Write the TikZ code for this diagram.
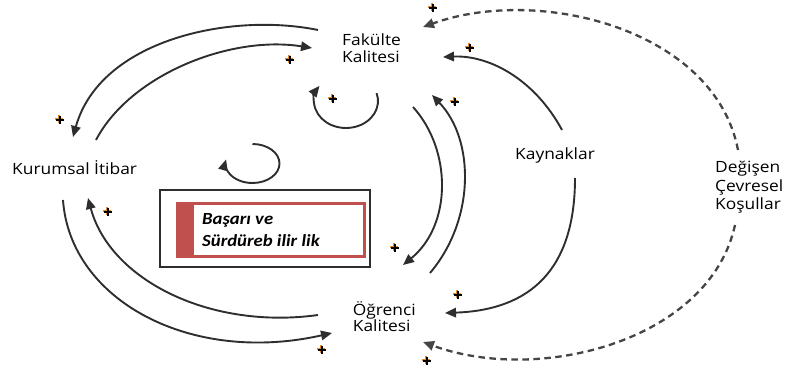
\documentclass[tikz,border=0pt]{standalone}
\usepackage{fontspec}
\setmainfont{Open Sans}
\newfontfamily\boxfont{Carlito}
\usetikzlibrary{arrows.meta}

\definecolor{linkgray}{HTML}{2E2E2E}
\definecolor{dashgray}{HTML}{454545}
\definecolor{boxred}{HTML}{C0504D}
\definecolor{plusorange}{HTML}{E08A2C}

\tikzset{
  flowarrow/.style={draw=linkgray, line width=1.9pt,
    -{Triangle[length=11pt,width=9.5pt]}},
  dashflow/.style={flowarrow, draw=dashgray, line width=2.3pt,
    dash pattern=on 6.5pt off 4.5pt},
  lbl/.style={font=\fontsize{15.5}{16.6}\selectfont, align=left,
    inner sep=0pt, xscale=1.12, text=black},
  plussign/.pic={
    \draw[plusorange, line width=2.2pt] (-5,-0.9) -- (3,-0.9) (-1.1,-4.8) -- (-1.1,3.1);
    \draw[black, line width=2pt] (-4,0) -- (4,0) (0,-4) -- (0,4);
  }
}

\begin{document}
\begin{tikzpicture}[x=1pt,y=-1pt]
\useasboundingbox (0,0) rectangle (797,371);

% variables
\node[lbl, anchor=north west] (fak) at (342,34) {Fakülte\\Kalitesi};
\node[lbl, anchor=base west] (kur) at (12,175) {Kurumsal İtibar};
\node[lbl, anchor=base west] (kay) at (515,160) {Kaynaklar};
\node[lbl, anchor=north west, font=\fontsize{15.5}{18.5}\selectfont] (deg) at (715,161) {Değişen\\Çevresel\\Koşullar};
\node[lbl, anchor=north west] (ogr) at (352.7,301.3) {Öğrenci\\Kalitesi};

% success and sustainability box
\draw[linkgray, line width=2.5pt] (160,190) rectangle (370,267);
\fill[boxred] (176,202) rectangle (366,258);
\fill[white] (193.5,205) rectangle (362.5,254.5);
\node[anchor=north west, inner sep=0pt, align=left, xscale=1.1,
  font=\boxfont\bfseries\itshape\fontsize{17}{22}\selectfont] (bas) at (202,213)
  {Başarı ve\\Sürdüreb ilir lik};

% connector ends
\coordinate (fk-out) at (318,30);
\coordinate (kr-in)  at (73,137);
\coordinate (kr-out) at (96,140);
\coordinate (fk-in)  at (312,48);
\coordinate (kr-low-out) at (63,200);
\coordinate (og-in)  at (332,333);
\coordinate (og-out) at (318,315);
\coordinate (kr-low-in) at (88,198);
\coordinate (fk-down) at (413,107);
\coordinate (og-top-in) at (403,265);
\coordinate (og-up) at (430,273);
\coordinate (fk-bot-in) at (432,95);
\coordinate (ky-top) at (562,130);
\coordinate (fk-right-in) at (443,57);
\coordinate (ky-bot) at (575,178);
\coordinate (og-right-in) at (445,313);
\coordinate (dc-top) at (738,150);
\coordinate (fk-dash-in) at (423,27);
\coordinate (dc-bot) at (735,225);
\coordinate (og-dash-in) at (423,342);
\coordinate (fk-loop) at (376.6,93.1);
\coordinate (mid-loop) at (252.5,144);

% reinforcing links
\draw[flowarrow] (fk-out) .. controls (230,12) and (100,40) .. (kr-in);
\draw[flowarrow] (kr-out) .. controls (130,75) and (230,35) .. (fk-in);
\draw[flowarrow] (kr-low-out) .. controls (70,300) and (190,365) .. (og-in);
\draw[flowarrow] (og-out) .. controls (210,330) and (110,280) .. (kr-low-in);
\draw[flowarrow] (fk-down) .. controls (452,150) and (452,225) .. (og-top-in);
\draw[flowarrow] (og-up) .. controls (475,220) and (475,140) .. (fk-bot-in);
\draw[flowarrow] (ky-top) .. controls (535,80) and (490,55) .. (fk-right-in);
\draw[flowarrow] (ky-bot) .. controls (575,270) and (530,310) .. (og-right-in);

% environmental influence
\draw[dashflow] (dc-top) .. controls (715,30) and (540,-15) .. (fk-dash-in);
\draw[dashflow] (dc-bot) .. controls (710,340) and (540,385) .. (og-dash-in);

% self loops
\draw[flowarrow] (fk-loop) arc[start angle=-17, end angle=214, x radius=32, y radius=27];
\draw[flowarrow] (mid-loop) arc[start angle=-90, end angle=192, x radius=27, y radius=19.5];

% polarity marks
\pic (p1) at (433,8) {plussign};
\pic (p2) at (470,48) {plussign};
\pic (p3) at (290,60) {plussign};
\pic (p4) at (333,99) {plussign};
\pic (p5) at (455,102) {plussign};
\pic (p6) at (60,120) {plussign};
\pic (p7) at (108,212) {plussign};
\pic (p8) at (395,248) {plussign};
\pic (p9) at (458,295) {plussign};
\pic (p10) at (322,350) {plussign};
\pic (p11) at (427,361) {plussign};
\end{tikzpicture}
\end{document}
